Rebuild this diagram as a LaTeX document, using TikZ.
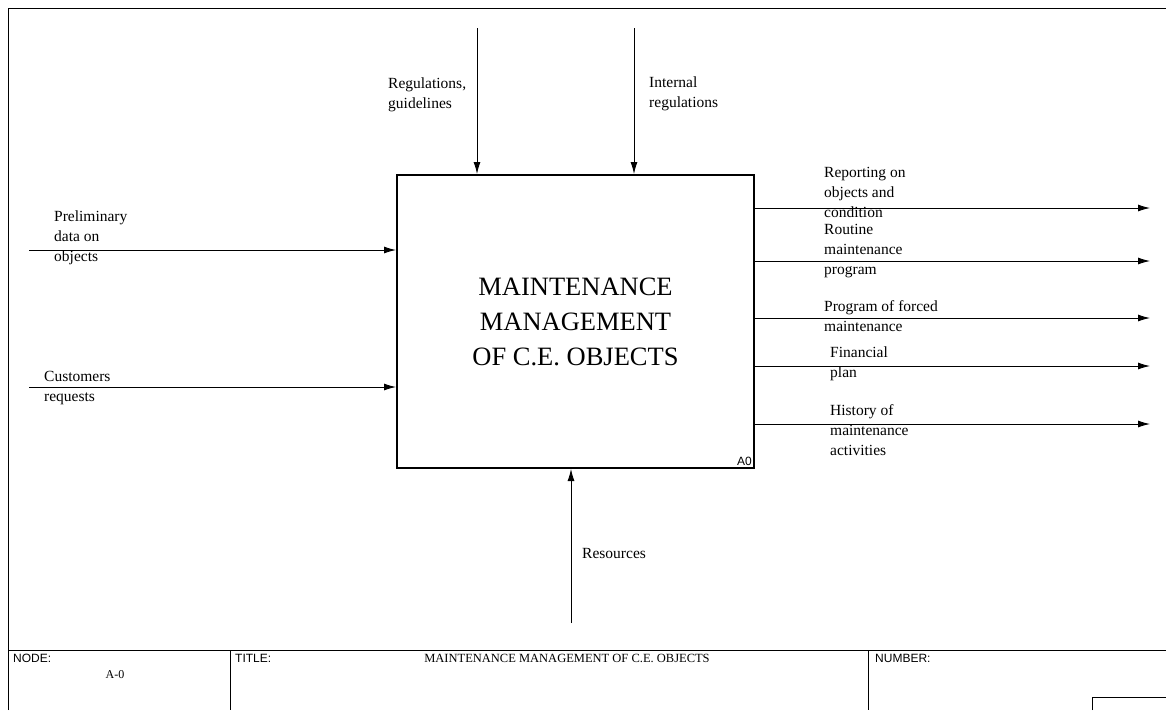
\documentclass[tikz,border=0pt]{standalone}
\usepackage{fontspec}
\setmainfont{Liberation Serif}
\newfontfamily\arialfont{Liberation Sans}
\usetikzlibrary{arrows.meta}
\tikzset{
  flow/.style={-{Latex[length=12pt,width=7pt]}, line width=0.9pt},
  lbl/.style={anchor=north west, inner sep=0pt, align=left, font=\fontsize{15.5}{20}\selectfont},
  frm/.style={line width=0.9pt},
  blk/.style={anchor=north west, inner sep=0pt, font=\arialfont\fontsize{12}{14}\selectfont},
}

\begin{document}
\begin{tikzpicture}[x=1pt, y=-1pt]
  \useasboundingbox (0,0) rectangle (1166,710);
  % sheet frame and title block
  \draw [frm] (8,710) -- (8,8) -- (1166,8);
  \draw [frm] (8,650) -- (1166,650);
  \draw [frm] (230,650) -- (230,710);
  \draw [frm] (868,650) -- (868,710);
  \draw [frm] (1092,710) -- (1092,697) -- (1166,697);
  \node [blk] (nodelbl) at (13,654) {NODE:};
  \node [blk] (titlelbl) at (235,654) {TITLE:};
  \node [blk] (numlbl) at (875,654) {NUMBER:};
  \node [font=\fontsize{12}{14}\selectfont] (nodeid) at (115,675) {A-0};
  \node [font=\fontsize{12.5}{14}\selectfont] (title) at (567,658) {MAINTENANCE MANAGEMENT OF C.E. OBJECTS};

  % activity
  \node [draw, line width=2pt, minimum width=357pt, minimum height=293pt, align=center,
         font=\fontsize{26.5}{35}\selectfont] (box) at (575.5,321.5) {MAINTENANCE\\MANAGEMENT\\OF C.E. OBJECTS};
  \node [anchor=south east, inner sep=3pt, font=\arialfont\fontsize{12}{14}\selectfont] (boxid) at (box.south east) {A0};

  % controls
  \coordinate (regsrc) at (477,28);
  \coordinate (intsrc) at (634,28);
  \draw [flow] (regsrc) -- (regsrc |- box.north);
  \draw [flow] (intsrc) -- (intsrc |- box.north);
  \node [lbl] (reglbl) at (388,78) {Regulations,\\guidelines};
  \node [lbl] (intlbl) at (649,77) {Internal\\regulations};

  % inputs
  \coordinate (presrc) at (29,250);
  \coordinate (custsrc) at (29,387);
  \draw [flow] (presrc) -- (presrc -| box.west);
  \draw [flow] (custsrc) -- (custsrc -| box.west);
  \node [lbl] (prelbl) at (54,211) {Preliminary\\data on\\objects};
  \node [lbl] (custlbl) at (44,371) {Customers\\requests};

  % mechanism
  \coordinate (ressrc) at (571,623);
  \draw [flow] (ressrc) -- (ressrc |- box.south);
  \node [lbl] (reslbl) at (582,548) {Resources};

  % outputs
  \coordinate (repout) at (1150,208);
  \coordinate (routout) at (1150,261);
  \coordinate (forcout) at (1150,318);
  \coordinate (finout) at (1150,366);
  \coordinate (histout) at (1150,424);
  \draw [flow] (repout -| box.east) -- (repout);
  \draw [flow] (routout -| box.east) -- (routout);
  \draw [flow] (forcout -| box.east) -- (forcout);
  \draw [flow] (finout -| box.east) -- (finout);
  \draw [flow] (histout -| box.east) -- (histout);
  \node [lbl] (replbl) at (824,167) {Reporting on\\objects and\\condition};
  \node [lbl] (routlbl) at (824,224) {Routine\\maintenance\\program};
  \node [lbl] (forclbl) at (824,300) {Program of forced\\maintenance};
  \node [lbl] (finlbl) at (830,347) {Financial\\plan};
  \node [lbl] (histlbl) at (830,404) {History of\\maintenance\\activities};
\end{tikzpicture}
\end{document}
